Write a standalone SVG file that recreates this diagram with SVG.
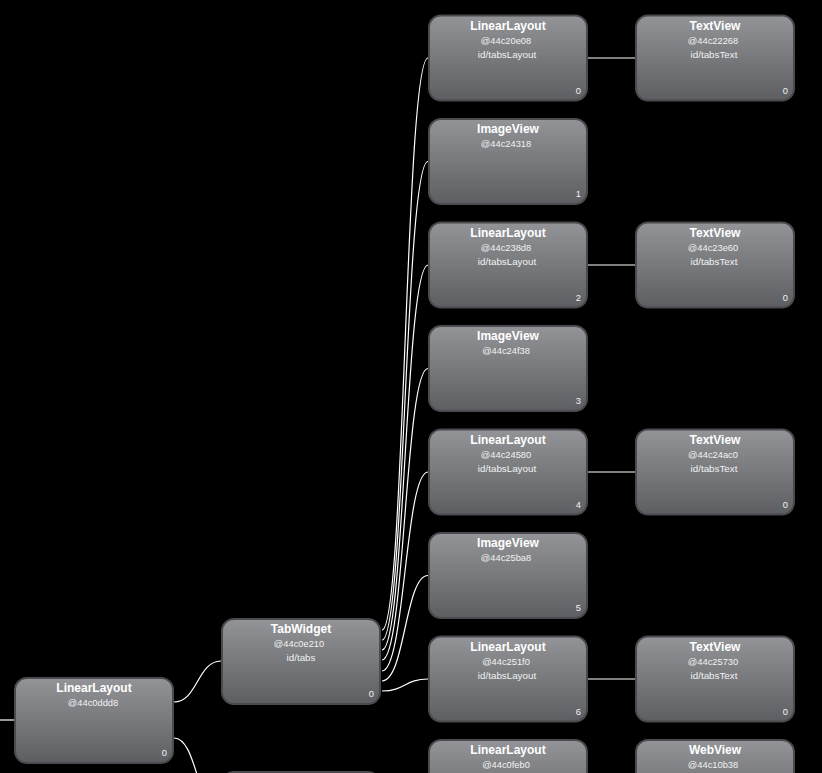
<svg xmlns="http://www.w3.org/2000/svg" width="822" height="773" viewBox="0 0 822 773">
<defs>
<linearGradient id="g" x1="0" y1="0" x2="0" y2="1">
<stop offset="0" stop-color="#929498"/>
<stop offset="1" stop-color="#5c5e62"/>
</linearGradient>
<style>
.n rect{fill:url(#g);stroke:#4a4b4f;stroke-width:2}
.t{font-family:"Liberation Sans",Arial,sans-serif;font-size:12px;font-weight:bold;fill:#ffffff;text-anchor:middle}
.h{font-family:"Liberation Sans",Arial,sans-serif;font-size:9.3px;fill:#f2f2f2;text-anchor:middle}
.d{font-family:"Liberation Sans",Arial,sans-serif;font-size:9.8px;fill:#f2f2f2;text-anchor:middle}
.i{font-family:"Liberation Sans",Arial,sans-serif;font-size:9.3px;fill:#f2f2f2;text-anchor:end}
.c path{fill:none;stroke:#ffffff;stroke-width:1.2}
</style>
</defs>
<rect width="822" height="773" fill="#000"/>
<g class="c" id="connectors">
<path d="M0,720 L14,720"/>
<path d="M174,702 C197.5,702 197.5,661 221,661"/>
<path d="M174,738 C197.5,738 197.5,814 221,814"/>
<path d="M382,630 C405,630 405,58 428,58"/>
<path d="M382,640 C405,640 405,161.5 428,161.5"/>
<path d="M382,650 C405,650 405,265 428,265"/>
<path d="M382,660 C405,660 405,368.5 428,368.5"/>
<path d="M382,671 C405,671 405,472 428,472"/>
<path d="M382,681 C405,681 405,575.5 428,575.5"/>
<path d="M382,691 C405,691 405,679 428,679"/>
<path d="M588,58 L635,58"/>
<path d="M588,265 L635,265"/>
<path d="M588,472 L635,472"/>
<path d="M588,679 L635,679"/>
</g>
<g class="n" id="root">
<rect x="15" y="678" width="158" height="85" rx="12"/>
<text class="t" x="94" y="692">LinearLayout</text>
<text class="h" x="93" y="706">@44c0ddd8</text>
<text class="i" x="167" y="756">0</text>
</g>
<g class="n" id="tabwidget">
<rect x="222" y="619" width="158" height="85" rx="12"/>
<text class="t" x="301" y="633">TabWidget</text>
<text class="h" x="299" y="647">@44c0e210</text>
<text class="d" x="301" y="661">id/tabs</text>
<text class="i" x="374" y="697">0</text>
</g>
<g class="n" id="framelayout">
<rect x="222" y="772" width="158" height="85" rx="12"/>
</g>
<g class="n" id="ll0">
<rect x="429" y="15.5" width="158" height="85" rx="12"/>
<text class="t" x="508" y="29.5">LinearLayout</text>
<text class="h" x="506" y="43.5">@44c20e08</text>
<text class="d" x="507" y="58">id/tabsLayout</text>
<text class="i" x="581" y="93.5">0</text>
</g>
<g class="n" id="tv0">
<rect x="636" y="15.5" width="158" height="85" rx="12"/>
<text class="t" x="715" y="29.5">TextView</text>
<text class="h" x="713" y="43.5">@44c22268</text>
<text class="d" x="714" y="58">id/tabsText</text>
<text class="i" x="788" y="93.5">0</text>
</g>
<g class="n" id="iv1">
<rect x="429" y="119" width="158" height="85" rx="12"/>
<text class="t" x="508" y="133">ImageView</text>
<text class="h" x="506" y="147">@44c24318</text>
<text class="i" x="581" y="197">1</text>
</g>
<g class="n" id="ll2">
<rect x="429" y="222.5" width="158" height="85" rx="12"/>
<text class="t" x="508" y="236.5">LinearLayout</text>
<text class="h" x="506" y="250.5">@44c238d8</text>
<text class="d" x="507" y="265">id/tabsLayout</text>
<text class="i" x="581" y="300.5">2</text>
</g>
<g class="n" id="tv2">
<rect x="636" y="222.5" width="158" height="85" rx="12"/>
<text class="t" x="715" y="236.5">TextView</text>
<text class="h" x="713" y="250.5">@44c23e60</text>
<text class="d" x="714" y="265">id/tabsText</text>
<text class="i" x="788" y="300.5">0</text>
</g>
<g class="n" id="iv3">
<rect x="429" y="326" width="158" height="85" rx="12"/>
<text class="t" x="508" y="340">ImageView</text>
<text class="h" x="506" y="354">@44c24f38</text>
<text class="i" x="581" y="404">3</text>
</g>
<g class="n" id="ll4">
<rect x="429" y="429.5" width="158" height="85" rx="12"/>
<text class="t" x="508" y="443.5">LinearLayout</text>
<text class="h" x="506" y="457.5">@44c24580</text>
<text class="d" x="507" y="472">id/tabsLayout</text>
<text class="i" x="581" y="507.5">4</text>
</g>
<g class="n" id="tv4">
<rect x="636" y="429.5" width="158" height="85" rx="12"/>
<text class="t" x="715" y="443.5">TextView</text>
<text class="h" x="713" y="457.5">@44c24ac0</text>
<text class="d" x="714" y="472">id/tabsText</text>
<text class="i" x="788" y="507.5">0</text>
</g>
<g class="n" id="iv5">
<rect x="429" y="533" width="158" height="85" rx="12"/>
<text class="t" x="508" y="547">ImageView</text>
<text class="h" x="506" y="561">@44c25ba8</text>
<text class="i" x="581" y="611">5</text>
</g>
<g class="n" id="ll6">
<rect x="429" y="636.5" width="158" height="85" rx="12"/>
<text class="t" x="508" y="650.5">LinearLayout</text>
<text class="h" x="506" y="664.5">@44c251f0</text>
<text class="d" x="507" y="679">id/tabsLayout</text>
<text class="i" x="581" y="714.5">6</text>
</g>
<g class="n" id="tv6">
<rect x="636" y="636.5" width="158" height="85" rx="12"/>
<text class="t" x="715" y="650.5">TextView</text>
<text class="h" x="713" y="664.5">@44c25730</text>
<text class="d" x="714" y="679">id/tabsText</text>
<text class="i" x="788" y="714.5">0</text>
</g>
<g class="n" id="ll7">
<rect x="429" y="740" width="158" height="85" rx="12"/>
<text class="t" x="508" y="754">LinearLayout</text>
<text class="h" x="506" y="768">@44c0feb0</text>
</g>
<g class="n" id="wv7">
<rect x="636" y="740" width="158" height="85" rx="12"/>
<text class="t" x="715" y="754">WebView</text>
<text class="h" x="713" y="768">@44c10b38</text>
</g>
</svg>
